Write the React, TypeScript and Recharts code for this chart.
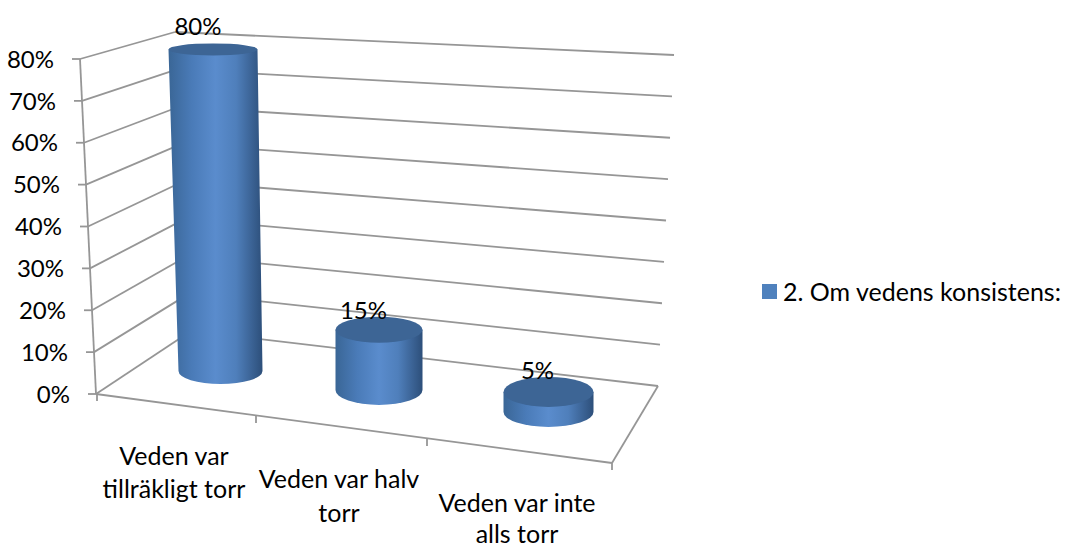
import React from 'react';
import { BarChart, Bar, XAxis, YAxis, CartesianGrid, Legend, LabelList } from 'recharts';

const categories = ['Veden var\ntillräkligt torr', 'Veden var halv\ntorr', 'Veden var inte\nalls torr'];
const seriesValues = [80, 15, 5];
const yTicks = [0, 10, 20, 30, 40, 50, 60, 70, 80];
const seriesName = '2. Om vedens konsistens:';

const chartData = categories.map((category, i) => ({ category, value: seriesValues[i] }));

const FONT = 'Lato, sans-serif';
const FONT_SIZE = 24;
const GRID = '#969696';
const PLOT_TOP = 59;
const PLOT_BOTTOM = 394;

// 3D look: where each level sits on the side wall / back wall
const wallPoints = (t: number) => ({
  front: [96 - 16 * t, PLOT_BOTTOM - 335 * t],
  backLeft: [191 - 16 * t, 331 - 299 * t],
  backRight: [658 + 16 * t, 386 - 331 * t],
});

const cylinders = [
  { dx: 4, tilt: 7.5, baseY: 371, topW: 89, bottomW: 84, ryTop: 6, ryBottom: 13 },
  { dx: -2.5, tilt: 0, baseY: 390, topW: 87, bottomW: 87, ryTop: 13, ryBottom: 15 },
  { dx: 2, tilt: 0, baseY: 412, topW: 90, bottomW: 90, ryTop: 15, ryBottom: 15 },
];
const labelShift = [
  { dx: -18.5, y: 26 },
  { dx: -18, y: 310 },
  { dx: -9, y: 370 },
];
const tickLabelShift = [
  { dx: -42, y: 456, gap: 33 },
  { dx: -42, y: 479, gap: 34 },
  { dx: -29, y: 503, gap: 31 },
];

const seg = (a: number[], b: number[], key?: string) => (
  <line key={key} x1={a[0]} y1={a[1]} x2={b[0]} y2={b[1]} stroke={GRID} strokeWidth={1.8} />
);

// one level of the grid, bent over the side wall and back wall
const GridLevel = (props: any) => {
  const t = (PLOT_BOTTOM - props.y1) / (PLOT_BOTTOM - PLOT_TOP);
  const { front, backLeft, backRight } = wallPoints(t);
  const isFloor = t < 0.01;
  const frontRight = [612, 463];
  return (
    <g key={props.key}>
      {seg(front, backLeft)}
      {seg(backLeft, backRight)}
      {isFloor && (
        <>
          {seg(wallPoints(0).front, wallPoints(1).front)}
          {seg(wallPoints(0).front, frontRight)}
          {seg(frontRight, backRight)}
          {seg([97, 394], [97, 401])}
          {seg([256, 415], [256, 423])}
          {seg([427, 438], [427, 446])}
          {seg([612, 463], [612, 470])}
        </>
      )}
    </g>
  );
};

const YTick = (props: any) => {
  const t = (PLOT_BOTTOM - props.y) / (PLOT_BOTTOM - PLOT_TOP);
  const [x, y] = wallPoints(t).front;
  return (
    <g>
      {seg([x - 8, y], [x, y])}
      <text x={x - 26} y={y} dy="0.36em" textAnchor="end" fontFamily={FONT} fontSize={FONT_SIZE} fill="#000">
        {props.payload.value}%
      </text>
    </g>
  );
};

const XTick = (props: any) => {
  const shift = tickLabelShift[props.index];
  const lines = String(props.payload.value).split('\n');
  return (
    <text textAnchor="middle" fontFamily={FONT} fontSize={25} fill="#000">
      {lines.map((line, i) => (
        <tspan key={line} x={props.x + shift.dx} y={shift.y + i * shift.gap} dy="0.34em">
          {line}
        </tspan>
      ))}
    </text>
  );
};

const Cylinder = (props: any) => {
  const c = cylinders[props.index];
  const cx = props.x + props.width / 2 + c.dx;
  const h = props.height * 0.96;
  const topY = c.baseY - h;
  const topCx = cx - c.tilt;
  const side = [
    `M${topCx - c.topW / 2},${topY}`,
    `L${cx - c.bottomW / 2},${c.baseY}`,
    `A${c.bottomW / 2},${c.ryBottom} 0 0 0 ${cx + c.bottomW / 2},${c.baseY}`,
    `L${topCx + c.topW / 2},${topY}`,
    'Z',
  ].join(' ');
  return (
    <g>
      <path d={side} fill="url(#cylinderSide)" />
      <ellipse cx={topCx} cy={topY} rx={c.topW / 2} ry={c.ryTop} fill="#3d6595" />
    </g>
  );
};

const BarValue = (props: any) => {
  const shift = labelShift[props.index];
  return (
    <text
      x={props.x + props.width / 2 + shift.dx}
      y={shift.y}
      dy="0.36em"
      textAnchor="middle"
      fontFamily={FONT}
      fontSize={FONT_SIZE}
      fill="#000"
    >
      {props.value}%
    </text>
  );
};

const LegendRow = ({ payload }: any) => (
  <div>
    {(payload || []).map((item: any) => (
      <div key={item.value} style={{ display: 'flex', alignItems: 'center', whiteSpace: 'nowrap', height: 30 }}>
        <span style={{ width: 15, height: 15, marginRight: 6, background: item.color }} />
        <span style={{ color: '#000' }}>{item.value}</span>
      </div>
    ))}
  </div>
);

const App: React.FC = () => {
  return (
    <div style={{ position: 'absolute', left: 0, top: 0 }}>
      <BarChart
        width={1065}
        height={546}
        data={chartData}
        margin={{ top: PLOT_TOP, right: 436.5, bottom: 0, left: 0 }}
        barCategoryGap="0%"
      >
        <defs>
          <linearGradient id="cylinderSide" x1="0" y1="0" x2="1" y2="0">
            <stop offset="0%" stopColor="#3a6696" />
            <stop offset="25%" stopColor="#4a7bb8" />
            <stop offset="50%" stopColor="#5a8ccd" />
            <stop offset="72%" stopColor="#4f7fbb" />
            <stop offset="100%" stopColor="#2d4f7a" />
          </linearGradient>
        </defs>
        <CartesianGrid vertical={false} horizontal={(p: any) => <GridLevel {...p} />} />
        <XAxis
          dataKey="category"
          height={152}
          interval={0}
          axisLine={false}
          tickLine={false}
          tick={(p: any) => <XTick {...p} />}
        />
        <YAxis
          domain={[0, 80]}
          ticks={yTicks}
          width={133.5}
          axisLine={false}
          tickLine={false}
          tick={(p: any) => <YTick {...p} />}
        />
        <Legend
          layout="horizontal"
          verticalAlign="middle"
          align="center"
          content={(p: any) => <LegendRow {...p} />}
          wrapperStyle={{ position: 'absolute', left: 762, top: 276, width: 303, fontFamily: FONT, fontSize: 25 }}
        />
        <Bar
          dataKey="value"
          name={seriesName}
          fill="#4f81bd"
          barSize={88}
          isAnimationActive={false}
          shape={(p: any) => <Cylinder {...p} />}
        >
          <LabelList dataKey="value" content={(p: any) => <BarValue {...p} />} />
        </Bar>
      </BarChart>
    </div>
  );
};

export default App;
